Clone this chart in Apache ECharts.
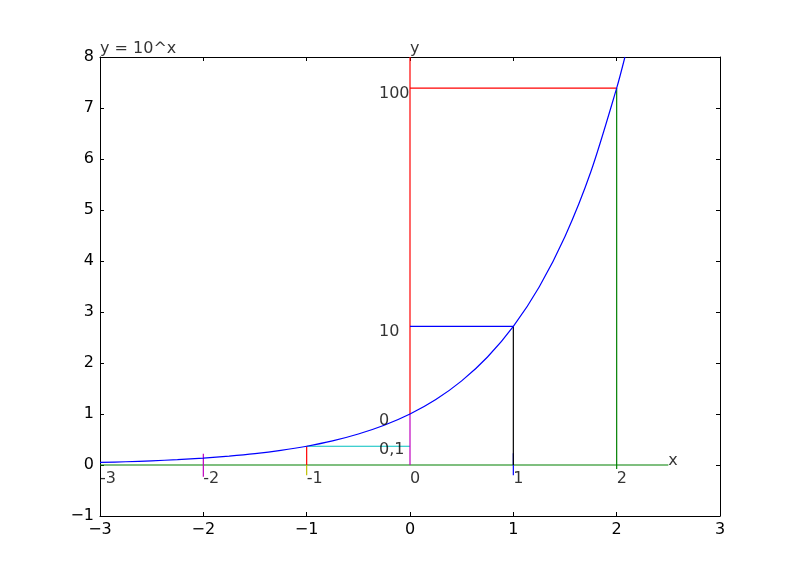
<!DOCTYPE html>
<html><head><meta charset="utf-8">
<script src="https://cdn.jsdelivr.net/npm/echarts@6/dist/echarts.min.js"></script>
<style>html,body{margin:0;padding:0;background:#fff}#c{width:800px;height:573px}</style>
</head><body><div id="c"></div>
<script>
// curve values
const curveX = [-3, -2.75, -2.5, -2.25, -2, -1.75, -1.5, -1.25, -1, -0.75, -0.5, -0.25, 0, 0.25, 0.5, 0.75, 1, 1.25, 1.5, 1.75, 2, 2.08];
const curveY = [0.05, 0.064, 0.082, 0.105, 0.135, 0.174, 0.223, 0.287, 0.368, 0.472, 0.607, 0.779, 1.0, 1.284, 1.649, 2.117, 2.718, 3.49, 4.48, 5.75, 7.39, 8.0];

// guide segments [x1, y1, x2, y2]
const segRedTop      = [0, 8, 0, 1.0];
const segMagentaZero = [0, 1.0, 0, 0];
const segRedHoriz    = [0, 7.39, 2, 7.39];
const segGreenVert   = [2, 7.39, 2, -0.08];
const segGreenAxis   = [-3, 0, 2.5, 0];
const segBlueHoriz   = [0, 2.718, 1, 2.718];
const segBlueTick    = [1, 0.23, 1, -0.2];
const segBlackVert   = [1, 2.718, 1, 0];
const segCyanHoriz   = [-1, 0.368, 0, 0.368];
const segRedTickM1   = [-1, 0.368, -1, 0];
const segYellowTick  = [-1, 0, -1, -0.2];
const segMagentaM2   = [-2, 0.22, -2, -0.23];

// annotation texts [text, x, y]
const notes = [
  ['100', -0.3, 7.27],
  ['10', -0.3, 2.61],
  ['0', -0.3, 0.87],
  ['0,1', -0.3, 0.29],
  ['-3', -3, -0.28],
  ['-2', -2, -0.28],
  ['-1', -1, -0.28],
  ['0', 0, -0.28],
  ['1', 1, -0.28],
  ['2', 2, -0.28],
  ['x', 2.5, 0.08],
  ['y', 0, 8.16],
  ['y = 10^x', -3, 8.16]
];

const xTicks = [-3, 3, 1];
const yTicks = [-1, 8, 1];

const FONT = 'DejaVu Sans';
const C = {
  red: '#ff0000', green: '#008000', blue: '#0000ff', black: '#000000',
  cyan: '#00bfbf', magenta: '#bf00bf', yellow: '#bfbf00'
};

function seg(s, color, z) {
  return {
    type: 'line', data: [[s[0], s[1]], [s[2], s[3]]], symbol: 'none', silent: true,
    lineStyle: { color: color, width: 1.2 }, z: z || 2, animation: false, clip: false,
    xAxisIndex: 0, yAxisIndex: 0
  };
}

const minus = v => String(v).replace('-', '\u2212');

const chart = echarts.init(document.getElementById('c'), null, { renderer: 'canvas' });
const axisCommon = {
  type: 'value', splitLine: { show: false },
  axisLine: { show: true, onZero: false, lineStyle: { color: '#000', width: 1 } },
  axisTick: { show: true, inside: true, length: 4, lineStyle: { color: '#000' } }
};
chart.setOption({
  animation: false,
  backgroundColor: '#fff',
  grid: { left: 100, right: 80, top: 57, bottom: 57 },
  xAxis: [
    Object.assign({}, axisCommon, { min: xTicks[0], max: xTicks[1], interval: xTicks[2], position: 'bottom',
      axisLabel: { color: '#000', fontFamily: FONT, fontSize: 16, margin: 6, formatter: minus } }),
    Object.assign({}, axisCommon, { min: xTicks[0], max: xTicks[1], interval: xTicks[2], position: 'top',
      axisLabel: { show: false } })
  ],
  yAxis: [
    Object.assign({}, axisCommon, { min: yTicks[0], max: yTicks[1], interval: yTicks[2], position: 'left',
      axisLabel: { color: '#000', fontFamily: FONT, fontSize: 16, margin: 6, formatter: minus } }),
    Object.assign({}, axisCommon, { min: yTicks[0], max: yTicks[1], interval: yTicks[2], position: 'right',
      axisLabel: { show: false } })
  ],
  series: [
    seg(segGreenAxis, C.green, 2),
    seg(segGreenVert, C.green, 2),
    seg(segRedHoriz, C.red, 2),
    seg(segRedTop, C.red, 2),
    seg(segMagentaZero, C.magenta, 3),
    seg(segBlueHoriz, C.blue, 2),
    seg(segBlueTick, C.blue, 2),
    seg(segBlackVert, C.black, 3),
    seg(segCyanHoriz, C.cyan, 2),
    seg(segRedTickM1, C.red, 3),
    seg(segYellowTick, C.yellow, 3),
    seg(segMagentaM2, C.magenta, 3),
    {
      type: 'line', data: curveX.map((x, i) => [x, curveY[i]]), symbol: 'none', smooth: 0.3,
      lineStyle: { color: C.blue, width: 1.2 }, z: 4, clip: true, silent: true
    },
    {
      type: 'scatter', data: notes.map(n => ({ value: [n[1], n[2]], name: n[0] })), symbolSize: 0,
      clip: false, silent: true, z: 5,
      label: { show: true, position: 'right', distance: 0, formatter: p => p.name,
        color: '#000', fontFamily: FONT, fontSize: 16 }
    }
  ]
});
</script>
</body></html>
